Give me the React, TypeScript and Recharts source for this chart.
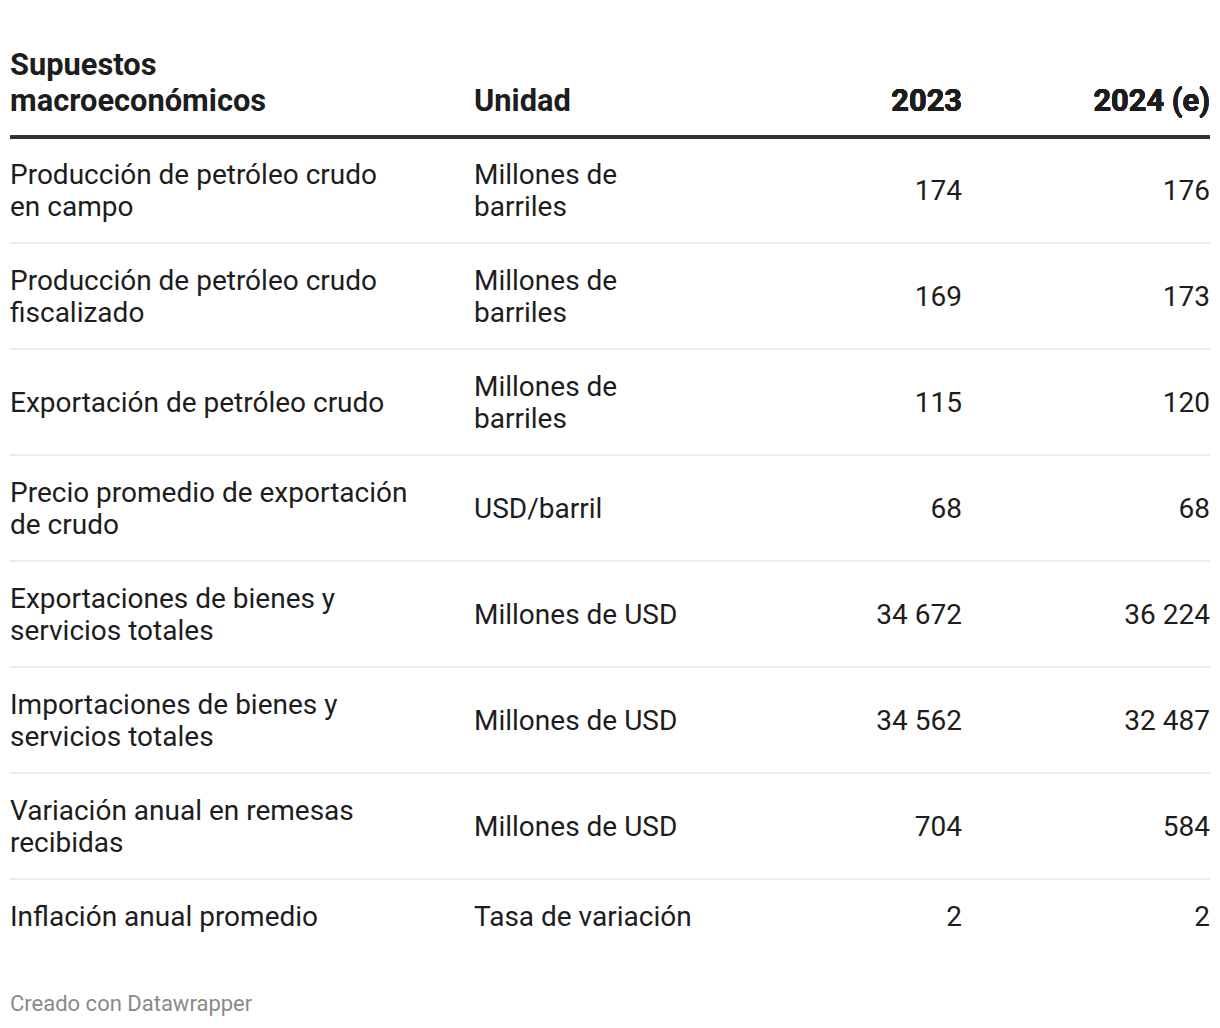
import React from "react";
import { ScatterChart, Scatter, XAxis, YAxis } from "recharts";

// Table rows (line breaks as in the original layout)
const rowLabels = [
  "Producción de petróleo crudo\nen campo",
  "Producción de petróleo crudo\nfiscalizado",
  "Exportación de petróleo crudo",
  "Precio promedio de exportación\nde crudo",
  "Exportaciones de bienes y\nservicios totales",
  "Importaciones de bienes y\nservicios totales",
  "Variación anual en remesas\nrecibidas",
  "Inflación anual promedio",
];

const units = [
  "Millones de\nbarriles",
  "Millones de\nbarriles",
  "Millones de\nbarriles",
  "USD/barril",
  "Millones de USD",
  "Millones de USD",
  "Millones de USD",
  "Tasa de variación",
];

const columns = ["2023", "2024 (e)"];
const values2023 = [174, 169, 115, 68, 34672, 34562, 704, 2];
const values2024 = [176, 173, 120, 68, 36224, 32487, 584, 2];

const W = 1220;
const H = 1028;
const LEFT_W = 714;
const RIGHT_PAD = 10;
const COL_W = (W - RIGHT_PAD - LEFT_W) / columns.length;
const TOP = 137;
const HEAD_H = 60;
const LINE_H = 32;
const ROW_PAD = 42;
const HEAD_SIZE = 30.8;
const FONT = "Roboto, 'Noto Sans', sans-serif";
const INK = "#1d1d1d";

// row heights follow the number of wrapped lines in each row
const rowLines = rowLabels.map((r, i) => Math.max(r.split("\n").length, units[i].split("\n").length));
const rowSizes = rowLines.map((n) => ROW_PAD + n * LINE_H);
const rowCenters = rowSizes.map((s, i) => rowSizes.slice(0, i).reduce((a, b) => a + b, 0) + s / 2);
const total = rowSizes.reduce((a, b) => a + b, 0);

const fmt = (v: number) => String(v).replace(/\B(?=(\d{3})+(?!\d))/g, " ");

const series = columns.map((col, ci) =>
  rowLabels.map((_, ri) => ({
    col,
    pos: rowCenters[ri],
    value: ci === 0 ? values2023[ri] : values2024[ri],
  }))
);

function textLines(lines: string[], x: number, cy: number, anchor = "start", weight = 400, size = 28, lh = LINE_H) {
  return lines.map((t, k) => (
    <text
      key={k}
      x={x}
      y={cy + (k - (lines.length - 1) / 2) * lh + size * 0.36}
      textAnchor={anchor}
      fontFamily={FONT}
      fontSize={size}
      fontWeight={weight}
      fill={INK}
    >
      {t}
    </text>
  ));
}

function RowTick(props: any) {
  const { y, payload } = props;
  const i = rowCenters.indexOf(payload.value);
  if (i < 0) return null;
  const half = rowSizes[i] / 2;
  return (
    <g>
      {i === 0 && (
        <line x1={10} x2={W - RIGHT_PAD} y1={y - half} y2={y - half} stroke="#333" strokeWidth={4} />
      )}
      {textLines(rowLabels[i].split("\n"), 10, y)}
      {textLines(units[i].split("\n"), 474, y)}
      {i < rowLabels.length - 1 && (
        <line x1={10} x2={W - RIGHT_PAD} y1={y + half} y2={y + half} stroke="#ececec" strokeWidth={2} />
      )}
    </g>
  );
}

function HeadTick(props: any) {
  const { x, payload, index } = props;
  return (
    <g>
      {index === 0 && (
        <>
          {textLines(["Supuestos", "macroeconómicos"], 10, 82, "start", 700, HEAD_SIZE, 36)}
          {textLines(["Unidad"], 474, 100, "start", 700, HEAD_SIZE, 36)}
        </>
      )}
      {textLines([payload.value], x + COL_W / 2, 100, "end", 700, HEAD_SIZE, 36)}
    </g>
  );
}

function ValueCell(props: any) {
  const { cx, cy, payload } = props;
  return (
    <text x={cx + COL_W / 2} y={cy + 28 * 0.36} textAnchor="end" fontFamily={FONT} fontSize={28} fill={INK}>
      {fmt(payload.value)}
    </text>
  );
}

const CHART_H = 970;

export default function App() {
  return (
    <div style={{ position: "absolute", left: 0, top: 0, width: W, height: H, background: "#fff" }}>
      <ScatterChart
        width={W}
        height={CHART_H}
        margin={{ top: TOP - HEAD_H, right: RIGHT_PAD, left: 0, bottom: CHART_H - TOP - total }}
      >
        <XAxis
          type="category"
          dataKey="col"
          orientation="top"
          scale="band"
          allowDuplicatedCategory={false}
          height={HEAD_H}
          axisLine={false}
          tickLine={false}
          interval={0}
          tick={<HeadTick />}
        />
        <YAxis
          type="number"
          dataKey="pos"
          domain={[0, total]}
          ticks={rowCenters}
          reversed
          width={LEFT_W}
          axisLine={false}
          tickLine={false}
          interval={0}
          tick={<RowTick />}
        />
        {series.map((d, i) => (
          <Scatter key={columns[i]} data={d} shape={<ValueCell />} isAnimationActive={false} />
        ))}
      </ScatterChart>
      <div
        style={{
          position: "absolute",
          left: 10,
          top: 989,
          fontFamily: FONT,
          fontSize: 22,
          color: "#8a8a8a",
          lineHeight: "30px",
        }}
      >
        Creado con Datawrapper
      </div>
    </div>
  );
}
